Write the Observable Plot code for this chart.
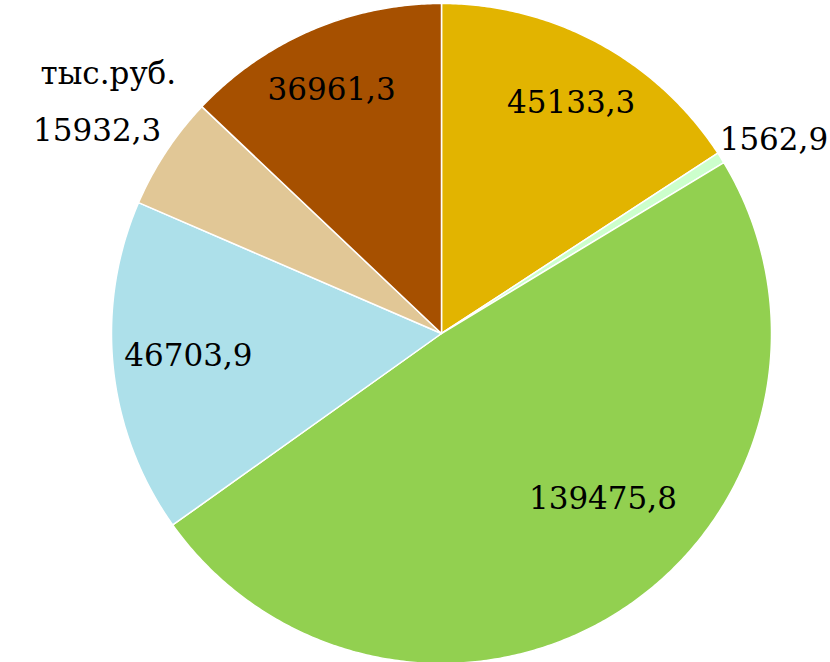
<!DOCTYPE html>
<html>
<head>
<meta charset="utf-8">
<script src="https://cdn.jsdelivr.net/npm/d3@7"></script>
<script src="https://cdn.jsdelivr.net/npm/@observablehq/plot@0.6"></script>
<style>
  html, body { margin: 0; padding: 0; background: #fff; }
  #chart { width: 830px; height: 662px; }
</style>
</head>
<body>
<div id="chart"></div>
<script>
// ---- data ----
const categories = ["s1", "s2", "s3", "s4", "s5", "s6"];
const values = [45133.3, 1562.9, 139475.8, 46703.9, 15932.3, 36961.3];
const labels = ["45133,3", "1562,9", "139475,8", "46703,9", "15932,3", "36961,3"];
const colors = ["#E2B400", "#CCFFCC", "#92D050", "#ADE0EA", "#E1C796", "#A65000"];
const unitLabel = "тыс.руб.";

// ---- layout (label placement relative to radius) ----
const labelRadius = [0.80, 1.165, 0.70, 0.77, 1.21, 0.81];
const labelShiftDeg = [1, 2, -11, 1, -3, -1];

const pie = d3.pie().sort(null).value(d => d.value)
  .startAngle(0).endAngle(2 * Math.PI);
const table = categories.map((c, i) => ({name: c, value: values[i], label: labels[i]}));
const arcs = pie(table);

const poly = [];
arcs.forEach(a => {
  const name = a.data.name;
  poly.push({name, x: 0, y: 0});
  const n = Math.max(4, Math.ceil((a.endAngle - a.startAngle) / (Math.PI / 360)));
  for (let k = 0; k <= n; k++) {
    const t = a.startAngle + (a.endAngle - a.startAngle) * k / n;
    poly.push({name, x: Math.sin(t), y: Math.cos(t)});
  }
  poly.push({name, x: 0, y: 0});
});

const labelData = arcs.map((a, i) => {
  const t = (a.startAngle + a.endAngle) / 2 + labelShiftDeg[i] * Math.PI / 180;
  return {label: a.data.label, x: labelRadius[i] * Math.sin(t), y: labelRadius[i] * Math.cos(t)};
});

const serif = "DejaVu Serif";
const W = 830, H = 662, cx = 441, cy = 333, R = 330;
const chart = Plot.plot({
  width: W, height: H,
  margin: 0,
  x: {domain: [-cx / R, (W - cx) / R], axis: null},
  y: {domain: [-(H - cy) / R, cy / R], axis: null},
  color: {domain: categories, range: colors},
  style: {background: "#fff"},
  marks: [
    Plot.line(poly, {x: "x", y: "y", z: "name", fill: "name", stroke: "white", strokeWidth: 1.5, strokeLinejoin: "round"}),
    Plot.text(labelData, {x: "x", y: "y", text: "label", fontSize: 31, fontFamily: serif, fill: "black"}),
    Plot.text([unitLabel], {frameAnchor: "top-left", textAnchor: "start", lineAnchor: "middle", dx: 40, dy: 74, text: d => d, fontSize: 31, fontFamily: serif, fill: "black"})
  ]
});
document.getElementById("chart").appendChild(chart);
</script>
</body>
</html>
